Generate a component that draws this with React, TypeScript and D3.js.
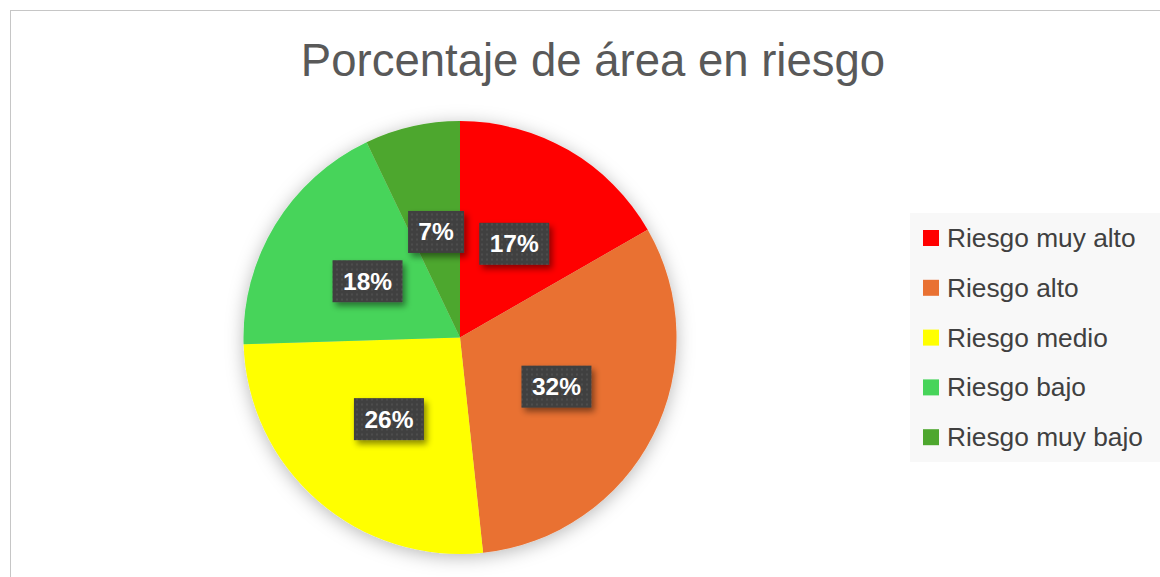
import React from "react";
import * as d3 from "d3";

const categories = ["Riesgo muy alto", "Riesgo alto", "Riesgo medio", "Riesgo bajo", "Riesgo muy bajo"];
const values = [16.7, 31.6, 26.2, 18.4, 7.1];
const labels = ["17%", "32%", "26%", "18%", "7%"];
const colors = ["#FF0000", "#E97132", "#FFFF00", "#47D45A", "#4EA72E"];
const title = "Porcentaje de área en riesgo";

const W = 1160;
const H = 577;
const cx = 460;
const cy = 337.5;
const R = 216.5;

export default function App() {
  const pie = d3.pie<number>().sort(null).value((d) => d);
  const arcs = pie(values);
  const arcGen = d3.arc<d3.PieArcDatum<number>>().innerRadius(0).outerRadius(R);
  const font = "'Liberation Sans', Arial, sans-serif";

  return (
    <svg width={W} height={H} style={{ position: "absolute", left: 0, top: 0, display: "block" }}>
      <defs>
        <filter id="pieShadow" x="-30%" y="-30%" width="160%" height="160%">
          <feDropShadow dx="0" dy="3" stdDeviation="9" floodColor="#000" floodOpacity="0.28" />
        </filter>
        <filter id="boxShadow" x="-40%" y="-40%" width="180%" height="180%">
          <feDropShadow dx="3" dy="4" stdDeviation="3" floodColor="#000" floodOpacity="0.45" />
        </filter>
        <pattern id="dots" width="5" height="5" patternUnits="userSpaceOnUse">
          <rect width="5" height="5" fill="#404040" />
          <rect x="1" y="1" width="2" height="2" fill="#4d4d4d" />
        </pattern>
      </defs>
      <rect x={0} y={0} width={W} height={H} fill="#fff" />
      <rect x={10.5} y={10.5} width={W + 20} height={H + 20} fill="#fff" stroke="#c6c6c6" strokeWidth={1} />
      <text x={593} y={76} textAnchor="middle" fontFamily={font} fontSize={45.5} fill="#595959">
        {title}
      </text>
      <g transform={`translate(${cx},${cy})`}>
        <g filter="url(#pieShadow)">
          {arcs.map((a, i) => (
            <path key={i} d={arcGen(a) || ""} fill={colors[i]} />
          ))}
        </g>
        {arcs.map((a, i) => {
          const [x, y] = arcGen.centroid(a);
          const w = labels[i].length > 2 ? 70 : 56;
          const h = 42;
          return (
            <g key={"l" + i}>
              <rect x={x - w / 2} y={y - h / 2} width={w} height={h} fill="url(#dots)" filter="url(#boxShadow)" />
              <text x={x} y={y + 8.5} textAnchor="middle" fontFamily={font} fontWeight="bold" fontSize={24.5} fill="#fff">
                {labels[i]}
              </text>
            </g>
          );
        })}
      </g>
      <rect x={910} y={213} width={260} height={249} fill="#f8f8f8" />
      {categories.map((c, i) => {
        const y = 238 + i * 49.8;
        return (
          <g key={"lg" + i}>
            <rect x={923} y={y - 8} width={16} height={16} fill={colors[i]} />
            <text x={947} y={y + 9} fontFamily={font} fontSize={26.3} fill="#404040">
              {c}
            </text>
          </g>
        );
      })}
    </svg>
  );
}
